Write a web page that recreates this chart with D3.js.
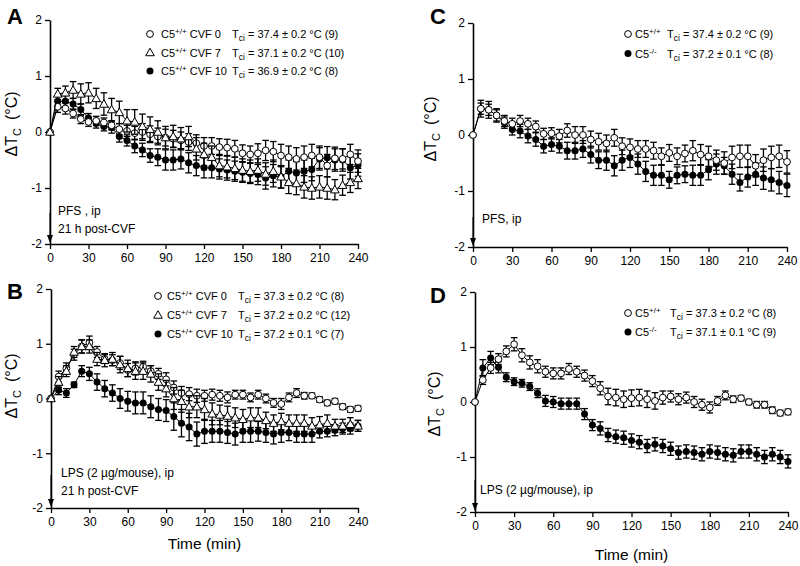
<!DOCTYPE html>
<html><head><meta charset="utf-8">
<script src="https://cdn.jsdelivr.net/npm/d3@7"></script>
<style>body{margin:0;background:#fff}svg{font-family:Arial,"Liberation Sans",Helvetica,sans-serif}</style>
</head><body><svg id="c" width="800" height="566"></svg>
<script>
const time = [0,6,12,18,24,30,36,42,48,54,60,66,72,78,84,90,96,102,108,114,120,126,132,138,144,150,156,162,168,174,180,186,192,198,204,210,216,222,228,234,240];
const xTicks = [0,30,60,90,120,150,180,210,240];
const yTicks = [-2,-1,0,1,2];

// Panel A (PFS, CVF pretreatment)
const A_cvf0 = [0,.45,.42,.33,.23,.18,.2,.17,.12,.05,.02,-.02,0,-.04,-.08,-.1,-.12,-.15,-.18,-.2,-.25,-.25,-.27,-.28,-.3,-.38,-.4,-.38,-.33,-.35,-.42,-.45,-.48,-.45,-.42,-.45,-.6,-.47,-.48,-.4,-.52];
const A_cvf0_se = [0,.1,.1,.08,.08,.08,.08,.08,.08,.1,.1,.12,.15,.15,.15,.15,.15,.15,.15,.15,.15,.15,.15,.15,.15,.15,.15,.17,.18,.18,.2,.2,.2,.2,.2,.2,.2,.2,.18,.18,.2];
const A_cvf7 = [0,.68,.7,.75,.68,.7,.6,.5,.4,.35,.2,.18,.1,.05,0,-.1,-.08,-.12,-.08,-.3,-.4,-.45,-.6,-.62,-.65,-.68,-.7,-.68,-.75,-.7,-.8,-.9,-.92,-.98,-1,-.98,-1,-1.03,-.95,-.9,-.83];
const A_cvf7_se = [0,.1,.12,.15,.18,.18,.18,.2,.2,.2,.2,.22,.22,.22,.2,.2,.2,.2,.18,.2,.2,.2,.2,.2,.2,.2,.2,.2,.2,.2,.2,.2,.2,.2,.2,.2,.2,.18,.18,.18,.18];
const A_cvf10 = [0,.55,.55,.5,.4,.25,.15,.1,.08,-.08,-.15,-.25,-.32,-.42,-.45,-.5,-.5,-.48,-.55,-.6,-.64,-.64,-.66,-.68,-.7,-.72,-.74,-.76,-.82,-.78,-.8,-.7,-.73,-.7,-.67,-.48,-.46,-.5,-.5,-.64,-.59];
const A_cvf10_se = [0,.1,.1,.1,.1,.08,.08,.08,.1,.1,.1,.12,.12,.12,.15,.18,.18,.18,.18,.18,.18,.18,.18,.18,.18,.18,.18,.18,.2,.2,.2,.2,.2,.2,.2,.2,.2,.2,.2,.2,.2];

// Panel B (LPS, CVF pretreatment)
const B_cvf0 = [0,.4,.55,.8,.95,1.02,.85,.72,.7,.65,.52,.55,.58,.5,.45,.35,.2,.1,.08,.05,.05,.07,.05,.02,.07,.07,.02,.07,0,-.08,-.1,.02,.1,.05,.05,-.02,-.08,-.05,-.15,-.2,-.18];
const B_cvf0_se = [0,.1,.1,.1,.12,.12,.1,.08,.1,.12,.12,.12,.1,.1,.1,.12,.12,.12,.12,.12,.1,.1,.1,.1,.08,.08,.08,.08,.08,.08,.1,.08,.08,.06,.05,.05,.05,.05,.05,.05,.05];
const B_cvf7 = [0,.3,.5,.85,.95,.95,.72,.7,.72,.62,.55,.5,.5,.45,.3,.18,0,-.05,-.15,-.15,-.2,-.28,-.3,-.32,-.35,-.38,-.35,-.35,-.4,-.45,-.42,-.45,-.45,-.45,-.5,-.48,-.45,-.5,-.5,-.47,-.5];
const B_cvf7_se = [0,.1,.1,.1,.12,.12,.12,.12,.12,.15,.15,.15,.15,.15,.15,.15,.2,.2,.2,.2,.2,.2,.18,.18,.18,.18,.18,.18,.15,.15,.15,.15,.15,.15,.15,.15,.15,.12,.12,.12,.1];
const B_cvf10 = [0,.15,.1,.25,.5,.45,.3,.18,.1,0,-.05,-.08,-.08,-.15,-.2,-.22,-.33,-.45,-.52,-.65,-.6,-.6,-.6,-.62,-.65,-.6,-.6,-.6,-.62,-.65,-.62,-.62,-.65,-.65,-.65,-.6,-.6,-.58,-.55,-.55,-.5];
const B_cvf10_se = [0,.08,.08,.05,.1,.12,.15,.15,.15,.18,.18,.2,.2,.2,.2,.2,.25,.25,.25,.22,.22,.2,.2,.2,.2,.2,.2,.18,.18,.18,.18,.15,.15,.15,.15,.12,.1,.1,.1,.1,.1];

// Panel C (PFS, C5 knockout)
const C_wt = [0,.47,.45,.35,.25,.2,.25,.2,.15,.02,.03,-.02,.08,0,0,-.08,-.12,-.15,-.05,-.2,-.22,-.25,-.25,-.28,-.38,-.32,-.38,-.33,-.28,-.35,-.38,-.45,-.5,-.4,-.38,-.38,-.55,-.45,-.4,-.38,-.48];
const C_wt_se = [0,.15,.15,.12,.1,.1,.1,.1,.1,.1,.1,.12,.12,.15,.15,.15,.15,.15,.15,.15,.15,.15,.15,.15,.15,.15,.15,.15,.18,.18,.18,.18,.2,.2,.2,.2,.2,.2,.2,.2,.2];
const C_ko = [0,.47,.45,.35,.22,.1,.07,-.02,-.08,-.2,-.17,-.2,-.28,-.28,-.25,-.35,-.45,-.45,-.55,-.45,-.4,-.52,-.65,-.72,-.72,-.8,-.72,-.7,-.72,-.72,-.62,-.52,-.55,-.7,-.85,-.75,-.7,-.77,-.8,-.85,-.9];
const C_ko_se = [0,.1,.1,.1,.1,.1,.12,.12,.12,.12,.12,.12,.15,.15,.15,.15,.15,.18,.18,.18,.18,.18,.18,.18,.18,.15,.15,.15,.18,.18,.18,.18,.15,.18,.15,.18,.2,.2,.2,.2,.2];

// Panel D (LPS, C5 knockout)
const D_wt = [0,.4,.62,.78,.92,1.05,.85,.72,.65,.55,.52,.52,.6,.55,.48,.38,.25,.1,.08,.05,.07,.08,.05,.02,.08,.1,.05,.08,0,-.05,-.1,.02,.12,.05,.07,0,-.05,-.05,-.15,-.2,-.18];
const D_wt_se = [0,.08,.1,.1,.1,.12,.12,.12,.12,.1,.1,.1,.1,.1,.1,.1,.12,.15,.15,.15,.15,.15,.15,.15,.12,.1,.1,.1,.1,.1,.1,.08,.08,.06,.05,.05,.06,.06,.06,.05,.05];
const D_ko = [0,.62,.8,.63,.45,.37,.34,.28,.16,.02,0,-.03,-.03,-.03,-.22,-.42,-.48,-.6,-.63,-.65,-.7,-.73,-.8,-.77,-.8,-.85,-.92,-.9,-.92,-.95,-.9,-.92,-.95,-.97,-.9,-.9,-.95,-1,-.95,-1,-1.08];
const D_ko_se = [0,.15,.12,.1,.08,.07,.07,.07,.08,.1,.1,.1,.1,.1,.1,.1,.12,.12,.12,.12,.12,.12,.12,.12,.12,.12,.12,.12,.12,.12,.12,.12,.12,.12,.12,.12,.12,.12,.12,.12,.12];

const svg = d3.select("#c");
const FS = 11;
const TFS = 12;

function drawPanel(p) {
  const x = d3.scaleLinear().domain([0,240]).range([p.x0, p.x1]);
  const y = d3.scaleLinear().domain([-2,2]).range([p.yb, p.yt]);
  const g = svg.append("g");
  const ax = g.append("g").attr("transform", `translate(0,${p.yb})`)
    .call(d3.axisBottom(x).tickValues(xTicks).tickSize(5).tickPadding(4).tickSizeOuter(0).tickFormat(d => String(d)));
  const ay = g.append("g").attr("transform", `translate(${p.x0},0)`)
    .call(d3.axisLeft(y).tickValues(yTicks).tickSize(5).tickPadding(3).tickSizeOuter(0).tickFormat(d => String(d)));
  [ax, ay].forEach(a => {
    a.select(".domain").attr("stroke","#000").attr("stroke-width",1.6);
    a.selectAll(".tick line").attr("stroke","#000").attr("stroke-width",1.3);
    a.selectAll("text").attr("font-size", TFS).attr("fill","#000").attr("font-family","Arial, Liberation Sans, sans-serif");
  });
  p.series.forEach(s => {
    const pts = time.map((t,i) => ({t, v: s.v[i], e: s.e[i]}));
    g.append("path").datum(pts)
      .attr("d", d3.line().x(d => x(d.t)).y(d => y(d.v)))
      .attr("fill","none").attr("stroke","#000").attr("stroke-width",1);
    const eb = g.append("g").attr("stroke","#000").attr("stroke-width",1.3);
    pts.filter(d => d.e > 0).forEach(d => {
      const cx = x(d.t), y1 = y(d.v + d.e), y2 = y(d.v - d.e);
      eb.append("line").attr("x1",cx).attr("x2",cx).attr("y1",y1).attr("y2",y2);
      eb.append("line").attr("x1",cx-3.3).attr("x2",cx+3.3).attr("y1",y1).attr("y2",y1);
      eb.append("line").attr("x1",cx-3.3).attr("x2",cx+3.3).attr("y1",y2).attr("y2",y2);
    });
    const mk = g.append("g");
    pts.forEach(d => drawMarker(mk, s.m, x(d.t), y(d.v)));
  });
  p.legend.forEach((l, i) => {
    const ly = p.ly + i * p.ldy;
    drawMarker(g, l.m, p.lmx, ly - 4);
    const t = g.append("text").attr("x", p.ltx).attr("y", ly).attr("font-size", FS);
    t.append("tspan").text("C5");
    t.append("tspan").attr("dy", -4).attr("font-size", 8).text(l.sup);
    t.append("tspan").attr("dy", 4).text(l.grp);
    const t2 = g.append("text").attr("x", p.ttx).attr("y", ly).attr("font-size", FS);
    t2.append("tspan").text("T");
    t2.append("tspan").attr("dy", 3).attr("font-size", 8.5).text("ci");
    t2.append("tspan").attr("dy", -3).text(" = " + l.tci);
  });
  const ax0 = x(0);
  g.append("line").attr("x1",ax0).attr("x2",ax0).attr("y1",p.arrTop).attr("y2",p.yb - 6)
    .attr("stroke","#000").attr("stroke-width",1);
  g.append("path").attr("d", `M${ax0-3},${p.yb-9} L${ax0+3},${p.yb-9} L${ax0},${p.yb-1} Z`).attr("fill","#000");
  p.note.forEach((n, i) => {
    g.append("text").attr("x", p.nx).attr("y", p.ny + i * 18).attr("font-size", 12).text(n);
  });
  g.append("text").attr("x", p.lx).attr("y", p.lyy).attr("font-size", 22).attr("font-weight","bold").text(p.letter);
  const yl = g.append("text").attr("transform", `translate(${p.ylx},${p.yly}) rotate(-90)`)
    .attr("text-anchor","middle").attr("font-size", 16);
  yl.append("tspan").text("\u0394T");
  yl.append("tspan").attr("dy", 4).attr("font-size", 11).text("C");
  yl.append("tspan").attr("dy", -4).text("\u2002(\u00B0C)");
  if (p.xlabel) {
    g.append("text").attr("x", (p.x0 + p.x1)/2).attr("y", p.xly).attr("text-anchor","middle")
      .attr("font-size", 15.5).text("Time (min)");
  }
}

function drawMarker(g, m, cx, cy) {
  if (m === "open") {
    g.append("circle").attr("cx",cx).attr("cy",cy).attr("r",3.4).attr("fill","#fff").attr("stroke","#000").attr("stroke-width",1);
  } else if (m === "filled") {
    g.append("circle").attr("cx",cx).attr("cy",cy).attr("r",3.5).attr("fill","#000");
  } else {
    const s = 4.3;
    g.append("path").attr("d", `M${cx},${cy-s} L${cx+s},${cy+s*0.75} L${cx-s},${cy+s*0.75} Z`)
      .attr("fill","#fff").attr("stroke","#000").attr("stroke-width",1);
  }
}

drawPanel({letter:"A", lx:7, lyy:24, x0:50, x1:358, yt:20, yb:244,
  series:[{v:A_cvf10,e:A_cvf10_se,m:"filled"},{v:A_cvf0,e:A_cvf0_se,m:"open"},{v:A_cvf7,e:A_cvf7_se,m:"tri"}],
  legend:[{m:"open",sup:"+/+",grp:" CVF 0",tci:"37.4 \u00B1 0.2 \u00B0C (9)"},
          {m:"tri",sup:"+/+",grp:" CVF 7",tci:"37.1 \u00B1 0.2 \u00B0C (10)"},
          {m:"filled",sup:"+/+",grp:" CVF 10",tci:"36.9 \u00B1 0.2 \u00B0C (8)"}],
  ly:38, ldy:18.5, lmx:150, ltx:161, ttx:232,
  arrTop:213, note:["PFS , ip","21 h post-CVF"], nx:58, ny:215,
  ylx:17, yly:124});

drawPanel({letter:"C", lx:430, lyy:24, x0:473, x1:787, yt:23, yb:247,
  series:[{v:C_ko,e:C_ko_se,m:"filled"},{v:C_wt,e:C_wt_se,m:"open"}],
  legend:[{m:"open",sup:"+/+",grp:"",tci:"37.4 \u00B1 0.2 \u00B0C (9)"},
          {m:"filled",sup:"-/-",grp:"",tci:"37.2 \u00B1 0.1 \u00B0C (8)"}],
  ly:38, ldy:19.5, lmx:628, ltx:635, ttx:667,
  arrTop:217, note:["PFS, ip"], nx:482, ny:223,
  ylx:436, yly:129});

drawPanel({letter:"B", lx:7, lyy:299, x0:51, x1:358, yt:289, yb:508,
  series:[{v:B_cvf10,e:B_cvf10_se,m:"filled"},{v:B_cvf0,e:B_cvf0_se,m:"open"},{v:B_cvf7,e:B_cvf7_se,m:"tri"}],
  legend:[{m:"open",sup:"+/+",grp:" CVF 0",tci:"37.3 \u00B1 0.2 \u00B0C (8)"},
          {m:"tri",sup:"+/+",grp:" CVF 7",tci:"37.2 \u00B1 0.2 \u00B0C (12)"},
          {m:"filled",sup:"+/+",grp:" CVF 10",tci:"37.2 \u00B1 0.1 \u00B0C (7)"}],
  ly:300, ldy:19, lmx:158, ltx:167, ttx:238,
  arrTop:475, note:["LPS (2 \u00B5g/mouse), ip","21 h post-CVF"], nx:61, ny:477,
  ylx:17, yly:386, xlabel:true, xly:549});

drawPanel({letter:"D", lx:430, lyy:303, x0:475, x1:788, yt:292, yb:512,
  series:[{v:D_ko,e:D_ko_se,m:"filled"},{v:D_wt,e:D_wt_se,m:"open"}],
  legend:[{m:"open",sup:"+/+",grp:"",tci:"37.3 \u00B1 0.2 \u00B0C (8)"},
          {m:"filled",sup:"-/-",grp:"",tci:"37.1 \u00B1 0.1 \u00B0C (9)"}],
  ly:317, ldy:19, lmx:628, ltx:635, ttx:670,
  arrTop:480, note:["LPS (2 \u00B5g/mouse), ip"], nx:480, ny:494,
  ylx:440, yly:404, xlabel:true, xly:560});
</script></body></html>
